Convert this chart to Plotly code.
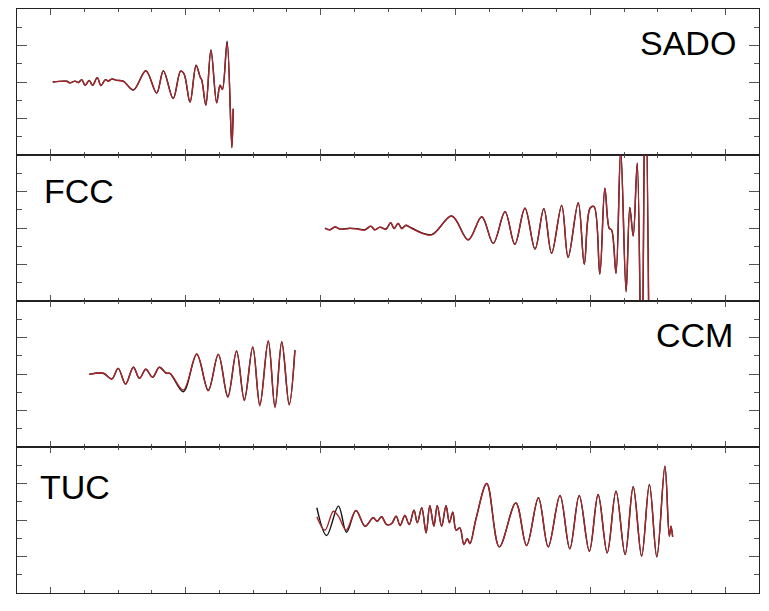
import plotly.graph_objects as go
from plotly.subplots import make_subplots

# station labels
stations = ["SADO", "FCC", "CCM", "TUC"]

# SADO waveform (time, amplitude)
sado_t = [1.06, 1.47, 1.57, 1.72, 1.82, 1.92, 2.02, 2.14, 2.24, 2.38, 2.49, 2.62, 2.71, 2.81,
          2.96, 3.15, 3.45, 3.82, 4.14, 4.34, 4.63, 4.85, 4.95, 5.13, 5.31, 5.43, 5.48, 5.60,
          5.75, 5.92, 6.02, 6.09, 6.23, 6.37, 6.41]
sado_red = [0, 0.04, -0.05, 0.05, -0.03, 0.13, -0.18, 0.09, -0.18, 0.24, -0.2, 0.13, 0.05, 0.16,
            0.09, 0.05, -0.42, 0.6, -0.6, 0.6, -0.91, 0.6, 0.46, -1.1, 0.9, 0.27, 0.09, -1.28,
            1.74, -1.15, -0.18, -0.42, 2.12, -3.56, -1.46]
sado_blk = [0, 0.04, -0.05, 0.05, -0.03, 0.13, -0.18, 0.09, -0.18, 0.24, -0.2, 0.13, 0.05, 0.16,
            0.09, 0.05, -0.44, 0.62, -0.6, 0.62, -0.9, 0.6, 0.46, -1.1, 0.92, 0.27, 0.09, -1.26,
            1.76, -1.13, -0.18, -0.4, 2.24, -3.6, -1.46]

# FCC waveform
fcc_t = [9.13, 9.28, 9.43, 9.58, 9.87, 10.12, 10.32, 10.49, 10.61, 10.76, 10.94, 11.08, 11.18,
         11.30, 11.41, 11.53, 11.70, 12.29, 12.89, 13.38, 13.78, 14.12, 14.47, 14.76, 15.06,
         15.36, 15.62, 15.85, 16.15, 16.34, 16.64, 16.82, 16.99, 17.11, 17.28, 17.43, 17.56,
         17.63, 17.76, 17.90, 18.06, 18.17, 18.27, 18.39, 18.52, 18.63, 18.75]
fcc_red = [-0.02, -0.11, 0.07, -0.07, -0.02, -0.07, -0.11, 0.11, -0.11, 0.04, -0.07, 0.31, -0.04,
           0.26, -0.04, 0.16, -0.02, -0.38, 0.66, -0.66, 0.62, -0.84, 0.89, -0.89, 1.08,
           -1.15, 1.06, -1.39, 1.24, -1.61, 1.39, -1.99, 1.08, 1.17, -2.52, 2.18, -0.02,
           -0.11, -2.48, 4.3, -3.49, 1.13, -0.44, 3.55, -9.0, 9.0, -9.0]
fcc_blk = [0.0, -0.09, 0.05, -0.06, -0.01, -0.05, -0.09, 0.09, -0.09, 0.05, -0.05, 0.28, -0.02,
           0.24, -0.01, 0.14, 0.0, -0.36, 0.66, -0.64, 0.62, -0.84, 0.89, -0.89, 1.08,
           -1.15, 1.06, -1.39, 1.24, -1.61, 1.39, -1.99, 1.08, 1.17, -2.52, 2.18, -0.02,
           -0.11, -2.48, 4.3, -3.49, 1.13, -0.44, 3.55, -9.0, 9.0, -9.0]

# CCM waveform
ccm_t = [2.14, 2.56, 2.81, 3.00, 3.22, 3.45, 3.63, 3.82, 4.02, 4.22, 4.42, 4.54, 4.93, 5.33,
         5.67, 5.97, 6.25, 6.51, 6.74, 6.99, 7.20, 7.45, 7.65, 7.85, 8.07, 8.24]
ccm_red = [-0.02, 0.04, -0.27, 0.31, -0.55, 0.37, -0.24, 0.26, -0.18, 0.37, 0.04, 0.04, -0.88,
           1.1, -0.92, 1.08, -1.28, 1.28, -1.46, 1.5, -1.75, 1.82, -1.85, 1.77, -1.7, 1.32]
ccm_blk = [-0.02, 0.04, -0.27, 0.31, -0.55, 0.37, -0.24, 0.26, -0.18, 0.37, 0.06, 0.02, -0.97,
           1.08, -0.88, 1.06, -1.22, 1.24, -1.4, 1.46, -1.68, 1.8, -1.8, 1.75, -1.66, 1.3]

# TUC waveform (first few samples differ between the two traces)
tuc_t_blk = [8.89, 9.18, 9.53, 9.77]
tuc_blk_start = [0.67, -0.85, 0.76, -0.67]
tuc_t_red = [8.89, 9.13, 9.38, 9.53, 9.76]
tuc_red_start = [0.18, -0.56, 0.48, 0.21, -0.56]
tuc_t = [10.05, 10.32, 10.56, 10.68, 10.81, 10.96, 11.11, 11.24, 11.36, 11.50, 11.63, 11.77,
         11.87, 12.00, 12.13, 12.24, 12.36, 12.46, 12.59, 12.72, 12.82, 12.92, 13.02, 13.13,
         13.25, 13.35, 13.43, 13.61, 13.93, 14.30, 14.79, 15.11, 15.46, 15.75, 16.10, 16.39,
         16.67, 16.97, 17.23, 17.50, 17.76, 18.03, 18.27, 18.52, 18.75, 18.97, 19.21, 19.34,
         19.39, 19.44]
tuc_amp = [0.52, -0.34, 0.12, -0.07, 0.18, -0.25, -0.19, 0.21, -0.3, 0.25, -0.25, 0.54,
           -0.15, 0.67, -0.7, 0.79, -0.34, 0.79, -0.34, 0.79, -0.15, 0.43, -0.56, -0.43,
           -1.34, -1.03, -1.29, 0.07, 2.0, -1.47, 0.94, -1.4, 1.22, -1.47, 1.34, -1.58,
           1.34, -1.71, 1.4, -1.8, 1.58, -1.89, 1.82, -1.98, 1.95, -2.02, 2.95, -0.89,
           -0.34, -0.92]

BLACK = "#111111"
RED = "#a8262b"

panels = [
    (sado_t, sado_blk, sado_t, sado_red),
    (fcc_t, fcc_blk, fcc_t, fcc_red),
    (ccm_t, ccm_blk, ccm_t, ccm_red),
    (tuc_t_blk + tuc_t, tuc_blk_start + tuc_amp, tuc_t_red + tuc_t, tuc_red_start + tuc_amp),
]

fig = make_subplots(rows=4, cols=1, shared_xaxes=True, vertical_spacing=0)

for i, (tb, yb, tr, yr) in enumerate(panels):
    fig.add_trace(go.Scatter(x=tb, y=yb, mode="lines", line=dict(color=BLACK, width=1.4, shape="spline"),
                             showlegend=False), row=i + 1, col=1)
    fig.add_trace(go.Scatter(x=tr, y=yr, mode="lines", line=dict(color=RED, width=1.4, shape="spline"),
                             showlegend=False), row=i + 1, col=1)

fig.update_xaxes(range=[0, 22], tick0=1, dtick=4, ticks="inside", ticklen=6, tickcolor="#555",
                 minor=dict(dtick=1, ticks="inside", ticklen=3, tickcolor="#555"),
                 showline=True, linecolor="#222", linewidth=1.3, mirror="ticks",
                 showticklabels=False, showgrid=False, zeroline=False)
fig.update_yaxes(range=[-4, 4], tick0=0, dtick=2, ticks="inside", ticklen=10, tickcolor="#555",
                 minor=dict(dtick=1, ticks="inside", ticklen=5, tickcolor="#555"),
                 showline=True, linecolor="#222", linewidth=1.3, mirror="ticks",
                 showticklabels=False, showgrid=False, zeroline=False)

# station names
label_pos = [(0.972, 0.942, "right"), (0.034, 0.689, "left"), (0.968, 0.441, "right"), (0.028, 0.182, "left")]
for name, (ax, ay, anchor) in zip(stations, label_pos):
    fig.add_annotation(x=ax, y=ay, xref="paper", yref="paper", text=name, showarrow=False,
                       xanchor=anchor, yanchor="middle",
                       font=dict(family="Liberation Sans, Arial", size=34, color="black"))

# page body adds an 8px offset, so the figure is sized to fit inside the window
fig.update_layout(
    width=753, height=595,
    margin=dict(l=9, r=2, t=1, b=10),
    plot_bgcolor="white", paper_bgcolor="white",
)

fig.write_html("out.html")
